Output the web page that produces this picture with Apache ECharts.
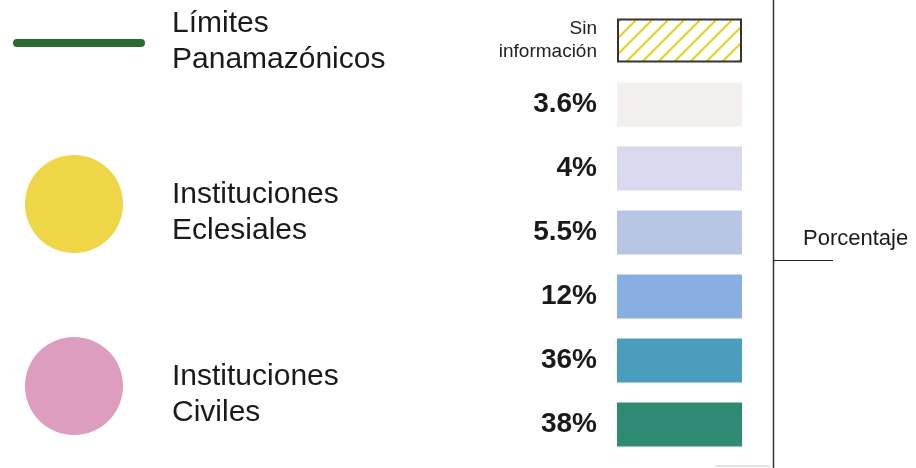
<!DOCTYPE html>
<html>
<head>
<meta charset="utf-8">
<script src="https://cdn.jsdelivr.net/npm/echarts@6/dist/echarts.min.js"></script>
<style>
  html, body { margin: 0; padding: 0; background: #fff; }
  #chart { width: 916px; height: 468px; }
</style>
</head>
<body>
<div id="chart"></div>
<script>
// categorias de la escala (de arriba a abajo)
const categories = ['Sin información', '3.6%', '4%', '5.5%', '12%', '36%', '38%'];
const swatchColors = ['hatch', '#f3efee', '#d8d9ee', '#b8c6e6', '#88aee2', '#4a9dbd', '#2f8a74'];
const swatchValues = [1, 1, 1, 1, 1, 1, 1];

// leyenda izquierda
const legendNames = ['Límites\nPanamazónicos', 'Instituciones\nEclesiales', 'Instituciones\nCiviles'];
const legendColors = ['#2c6a33', '#efd647', '#dc9dbf'];

const FONT = '"Liberation Sans", Arial, sans-serif';

// patron rayado para "Sin información"
function hatchPattern() {
    const s = 16;
    const c = document.createElement('canvas');
    c.width = s; c.height = s;
    const ctx = c.getContext('2d');
    ctx.fillStyle = '#ffffff';
    ctx.fillRect(0, 0, s, s);
    ctx.strokeStyle = '#e6d21c';
    ctx.lineWidth = 2;
    ctx.beginPath();
    ctx.moveTo(-2, s + 2); ctx.lineTo(s + 2, -2);
    ctx.moveTo(-2, 2); ctx.lineTo(2, -2);
    ctx.moveTo(s - 2, s + 2); ctx.lineTo(s + 2, s - 2);
    ctx.stroke();
    return c;
}

const chart = echarts.init(document.getElementById('chart'), null, { renderer: 'canvas' });

const barData = swatchValues.map((v, i) => {
    if (swatchColors[i] === 'hatch') {
        return {
            value: v,
            itemStyle: {
                color: { image: hatchPattern(), repeat: 'repeat' },
                borderColor: '#333',
                borderWidth: 2
            }
        };
    }
    return { value: v, itemStyle: { color: swatchColors[i] } };
});

// elementos de la leyenda izquierda
const legendY = [43, 204, 386];
const textY = [42, 213, 395];
const leftGraphics = [];
legendNames.forEach((name, i) => {
    if (i === 0) {
        leftGraphics.push({
            type: 'line',
            shape: { x1: 17, y1: legendY[i], x2: 141, y2: legendY[i] },
            style: { stroke: legendColors[i], lineWidth: 8, lineCap: 'round' }
        });
    } else {
        leftGraphics.push({
            type: 'circle',
            shape: { cx: 74, cy: legendY[i], r: 49 },
            style: { fill: legendColors[i] }
        });
    }
    leftGraphics.push({
        type: 'text',
        x: 172,
        y: textY[i],
        style: {
            text: name,
            fontFamily: FONT,
            fontSize: 30,
            lineHeight: 36,
            fill: '#1a1a1a',
            verticalAlign: 'middle'
        }
    });
});

chart.setOption({
    animation: false,
    backgroundColor: '#ffffff',
    grid: { left: 617, right: 174, top: 8.5, bottom: 11.5 },
    xAxis: { type: 'value', min: 0, max: 1, show: false },
    yAxis: {
        type: 'category',
        inverse: true,
        data: categories,
        axisLine: { show: false },
        axisTick: { show: false },
        splitLine: { show: false },
        axisLabel: {
            margin: 20,
            formatter: function (v) {
                if (v === 'Sin información') return '{s|Sin}\n{s|información}';
                return '{p|' + v + '}';
            },
            rich: {
                s: { fontFamily: FONT, fontSize: 19, lineHeight: 23, color: '#222', align: 'right' },
                p: { fontFamily: FONT, fontSize: 28, fontWeight: 'bold', color: '#1a1a1a' }
            }
        }
    },
    series: [{
        type: 'bar',
        data: barData,
        barWidth: 44
    }],
    graphic: leftGraphics.concat([
        {
            type: 'line',
            shape: { x1: 773.5, y1: 0, x2: 773.5, y2: 468 },
            style: { stroke: '#333', lineWidth: 1.5 }
        },
        {
            type: 'line',
            shape: { x1: 773, y1: 260.5, x2: 833, y2: 260.5 },
            style: { stroke: '#222', lineWidth: 1 }
        },
        {
            type: 'line',
            shape: { x1: 715, y1: 466, x2: 770, y2: 466 },
            style: { stroke: '#c8c8c8', lineWidth: 1 }
        },
        {
            type: 'text',
            x: 803,
            y: 250,
            style: {
                text: 'Porcentaje',
                fontFamily: FONT,
                fontSize: 22,
                fill: '#1a1a1a',
                verticalAlign: 'bottom'
            }
        }
    ])
});
</script>
</body>
</html>
